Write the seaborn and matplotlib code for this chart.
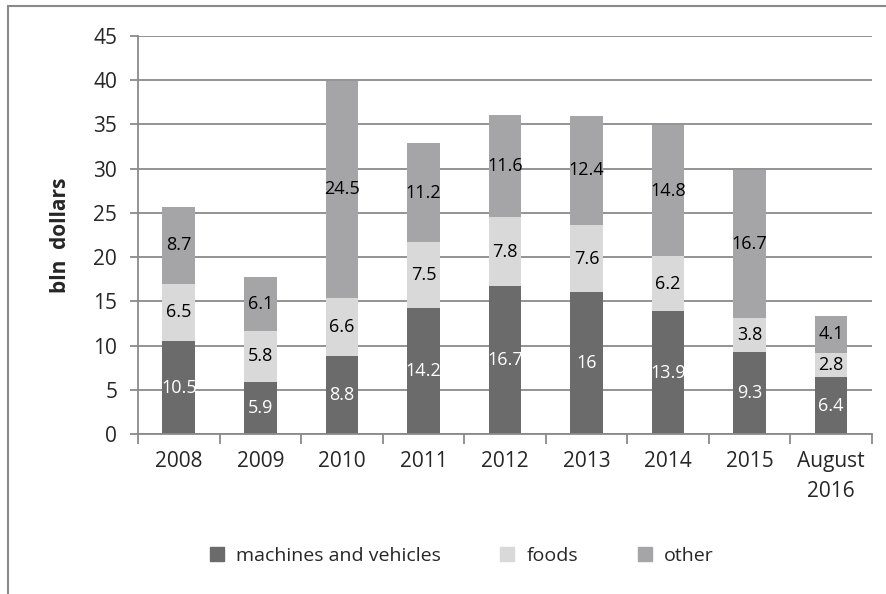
import numpy as np
import pandas as pd
import matplotlib
matplotlib.use("Agg")
import matplotlib.pyplot as plt
from matplotlib.patches import Rectangle
from matplotlib.lines import Line2D
import seaborn as sns

years = ["2008", "2009", "2010", "2011", "2012", "2013", "2014", "2015", "August\n2016"]
machines = [10.5, 5.9, 8.8, 14.2, 16.7, 16, 13.9, 9.3, 6.4]
foods = [6.5, 5.8, 6.6, 7.5, 7.8, 7.6, 6.2, 3.8, 2.8]
other = [8.7, 6.1, 24.5, 11.2, 11.6, 12.4, 14.8, 16.7, 4.1]

series_names = ["machines and vehicles", "foods", "other"]
colors = ["#6b6b6b", "#d9d9d9", "#a5a5a7"]
label_colors = ["white", "black", "black"]

sns.set_theme(style="white")
plt.rcParams["font.family"] = ["Open Sans", "DejaVu Sans"]

df = pd.DataFrame({"year": years, series_names[0]: machines,
                   series_names[1]: foods, series_names[2]: other})

fig = plt.figure(figsize=(8.87, 5.94), dpi=100)
ax = fig.add_axes([0.1556, 0.2694, 0.8274, 0.67])

bottom = np.zeros(len(years))
for name, col, lcol in zip(series_names, colors, label_colors):
    vals = df[name].to_numpy()
    sns.barplot(x="year", y=name, data=df, color=col, bottom=bottom,
                width=0.4, ax=ax, linewidth=0, saturation=1)
    for i, v in enumerate(vals):
        ax.text(i, bottom[i] + v / 2, f"{v:g}", ha="center", va="center",
                color=lcol, fontsize=13)
    bottom = bottom + vals

ax.set_ylim(0, 45)
ax.set_xlim(-0.5, len(years) - 0.5)
ax.set_yticks(range(0, 46, 5))
ax.yaxis.grid(True, color="#8a8a8a", linewidth=1.3)
ax.set_axisbelow(True)
for s in ["top", "right"]:
    ax.spines[s].set_visible(False)
for s in ["left", "bottom"]:
    ax.spines[s].set_color("#8a8a8a")
    ax.spines[s].set_linewidth(1.3)

ax.set_xticks(np.arange(len(years)))
ax.set_xticklabels(years, fontsize=15, linespacing=1.6, va="top")
ax.tick_params(axis="x", length=0, pad=12)
ax.set_xticks(np.arange(-0.5, len(years)), minor=True)
ax.tick_params(axis="x", which="minor", length=7, width=1.3, color="#8a8a8a", direction="out", bottom=True)
ax.tick_params(axis="y", labelsize=15, length=6, width=1.3, color="#8a8a8a", direction="out", left=True, pad=9)
ax.set_xlabel("")
ax.set_ylabel("bln  dollars", fontsize=15, fontweight="bold", labelpad=16)

handles = [Line2D([0], [0], marker="s", linestyle="", markersize=10,
                  markerfacecolor=c, markeredgecolor=c) for c in colors]
fig.legend(handles, series_names, loc="center", bbox_to_anchor=(0.518, 0.064),
           ncol=3, frameon=False, fontsize=14, handletextpad=0.4, columnspacing=2.8,
           handlelength=1.2)

fig.add_artist(Rectangle((8 / 887, -0.1), 1.2, 1 - 6 / 594 + 0.1, transform=fig.transFigure,
                         fill=False, edgecolor="#8a8a8a", linewidth=1.5))

fig.savefig("out.png", dpi=100)
